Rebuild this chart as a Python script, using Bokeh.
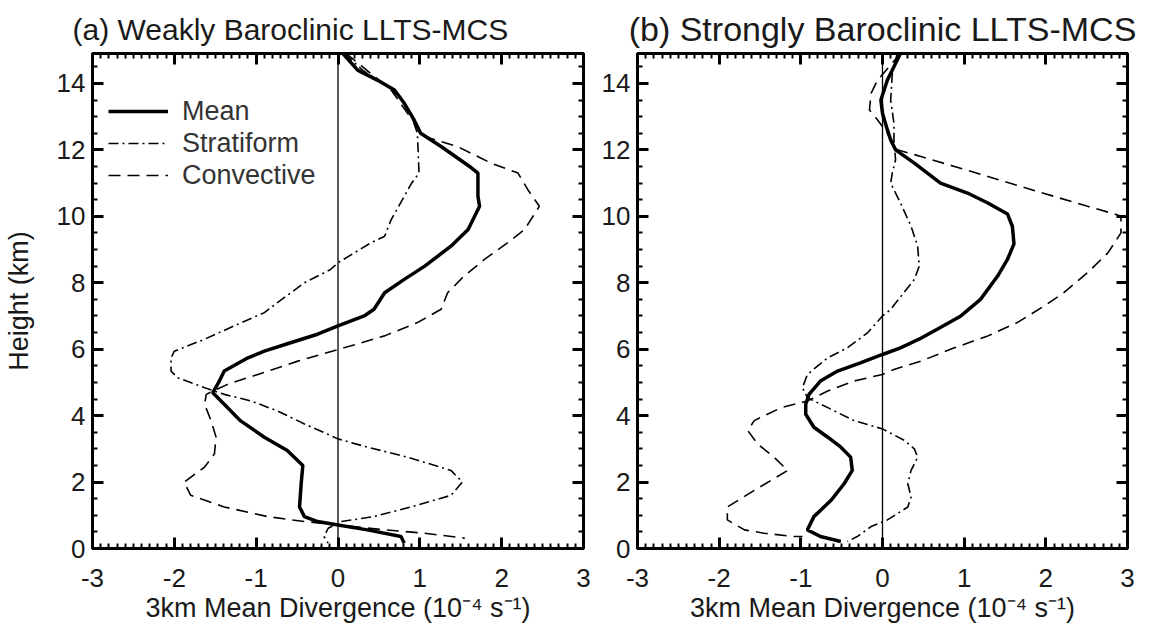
from bokeh.plotting import figure
from bokeh.models import LinearAxis, FixedTicker, Span, Legend, LegendItem, Range1d
from bokeh.layouts import row
from bokeh.embed import file_html
from bokeh.resources import INLINE
import numpy as np

# ---------------- data ----------------
x_ticks = [-3, -2, -1, 0, 1, 2, 3]
x_tick_labels = ["-3", "-2", "-1", "0", "1", "2", "3"]
y_ticks = [0, 2, 4, 6, 8, 10, 12, 14]
y_tick_labels = ["0", "2", "4", "6", "8", "10", "12", "14"]

titles = ["(a) Weakly Baroclinic LLTS-MCS", "(b) Strongly Baroclinic LLTS-MCS"]
series_names = ["Mean", "Stratiform", "Convective"]

# panel (a)
a_mean_div = [0.06, 0.24, 0.48, 0.69, 0.81, 0.93, 1.01, 1.26, 1.63, 1.71, 1.71, 1.73, 1.59, 1.38, 1.06,
              0.81, 0.57, 0.44, 0.32, 0.0, -0.25, -0.57, -0.9, -1.1, -1.39, -1.45, -1.53, -1.39, -1.19,
              -0.9, -0.62, -0.43, -0.45, -0.47, -0.41, -0.25, 0.0, 0.36, 0.77, 0.81]
a_mean_z = [14.9, 14.4, 14.1, 13.8, 13.4, 12.9, 12.5, 12.1, 11.46, 11.3, 10.6, 10.3, 9.6, 9.1, 8.5,
            8.1, 7.7, 7.2, 7.0, 6.7, 6.45, 6.2, 5.94, 5.74, 5.34, 5.04, 4.69, 4.34, 3.84,
            3.35, 2.95, 2.5, 1.95, 1.25, 0.96, 0.81, 0.71, 0.56, 0.36, 0.16]

a_strat_div = [0.08, 0.3, 0.55, 0.75, 0.9, 0.97, 0.99, 0.9, 0.81, 0.65, 0.57, 0.4, 0.0, -0.09, -0.41,
               -0.74, -0.9, -1.27, -1.63, -2.0, -2.04, -2.04, -1.96, -1.63, -1.39, -1.06, -0.74, -0.41,
               0.0, 0.36, 0.85, 1.38, 1.52, 1.38, 0.89, 0.44, 0.04, -0.12, -0.17, -0.12]
a_strat_z = [14.9, 14.4, 14.0, 13.6, 13.0, 12.5, 11.3, 11.0, 10.6, 9.9, 9.4, 9.2, 8.6, 8.4, 8.0,
             7.4, 7.1, 6.7, 6.3, 5.94, 5.74, 5.34, 5.14, 4.84, 4.64, 4.44, 4.14, 3.75,
             3.3, 3.05, 2.75, 2.35, 2.0, 1.6, 1.25, 0.96, 0.81, 0.61, 0.36, 0.16]

a_conv_div = [0.1, 0.4, 0.65, 0.85, 1.06, 1.46, 1.87, 2.2, 2.32, 2.46, 2.28, 2.07, 1.79, 1.54, 1.34,
              1.26, 0.97, 0.57, 0.16, 0.0, -0.49, -0.98, -1.35, -1.61, -1.63, -1.55, -1.49, -1.51,
              -1.63, -1.88, -1.8, -1.39, -0.86, -0.41, 0.0, 0.57, 1.06, 1.55]
a_conv_z = [14.9, 14.3, 13.8, 13.1, 12.4, 12.1, 11.6, 11.3, 10.8, 10.3, 9.6, 9.2, 8.7, 8.2, 7.7,
            7.2, 6.8, 6.4, 6.1, 5.99, 5.64, 5.24, 4.94, 4.64, 4.34, 3.84, 3.35, 2.85,
            2.45, 2.0, 1.6, 1.25, 0.96, 0.81, 0.71, 0.56, 0.46, 0.31]

# panel (b)
b_mean_div = [0.22, 0.14, 0.06, -0.02, 0.0, 0.06, 0.1, 0.16, 0.39, 0.71, 1.04, 1.29, 1.53, 1.59, 1.61,
              1.53, 1.41, 1.2, 0.96, 0.67, 0.47, 0.22, 0.0, -0.27, -0.55, -0.76, -0.9, -0.94, -0.94,
              -0.84, -0.67, -0.51, -0.39, -0.37, -0.47, -0.63, -0.84, -0.92, -0.76, -0.51]
b_mean_z = [14.9, 14.5, 14.1, 13.5, 13.1, 12.6, 12.3, 12.0, 11.6, 11.0, 10.7, 10.4, 10.07, 9.7, 9.17,
            8.7, 8.2, 7.5, 7.0, 6.6, 6.33, 6.04, 5.84, 5.59, 5.34, 5.04, 4.64, 4.34, 4.04,
            3.65, 3.35, 3.05, 2.75, 2.35, 1.95, 1.45, 0.96, 0.56, 0.36, 0.21]

b_strat_div = [0.18, 0.12, 0.1, 0.14, 0.14, 0.16, 0.12, 0.1, 0.22, 0.35, 0.43, 0.45, 0.39, 0.1, 0.0,
               -0.18, -0.43, -0.67, -0.92, -0.98, -0.92, -0.67, -0.35, 0.0, 0.27, 0.39, 0.43, 0.35,
               0.31, 0.35, 0.31, 0.06, -0.14, -0.31, -0.43]
b_strat_z = [14.9, 14.3, 13.5, 12.8, 12.3, 11.7, 11.3, 11.0, 10.4, 9.7, 9.1, 8.5, 8.1, 7.2, 7.0,
             6.5, 6.04, 5.74, 5.24, 4.84, 4.54, 4.24, 3.85, 3.6, 3.25, 3.0, 2.75, 2.35,
             1.95, 1.55, 1.25, 0.86, 0.66, 0.36, 0.21]

b_conv_div = [0.22, 0.08, -0.06, -0.14, -0.16, -0.06, 0.06, 0.18, 0.47, 0.88, 1.29, 1.69, 2.1, 2.51,
              2.84, 2.92, 2.92, 2.76, 2.51, 2.22, 1.98, 1.65, 1.29, 0.88, 0.47, 0.14, 0.0, -0.35,
              -0.67, -0.92, -1.24, -1.57, -1.65, -1.53, -1.33, -1.16, -1.57, -1.9, -1.9, -1.69,
              -1.45, -1.08, -0.98]
b_conv_z = [14.9, 14.5, 14.1, 13.7, 13.2, 12.9, 12.5, 12.0, 11.8, 11.5, 11.2, 10.9, 10.6, 10.3,
            10.07, 10.0, 9.5, 8.9, 8.3, 7.7, 7.3, 6.8, 6.4, 6.04, 5.64, 5.39, 5.24, 5.04,
            4.74, 4.44, 4.24, 3.85, 3.55, 3.15, 2.75, 2.35, 1.75, 1.25, 0.86, 0.56,
            0.46, 0.36, 0.36]

# ---------------- style ----------------
FONT = "Liberation Sans"
TXT = "#1a1a1a"
X_RANGE = (-3, 3)
Y_RANGE = (0, 14.9)


def make_panel(title, title_size, title_align, title_offset, title_standoff, width,
               border_left, border_right, show_ylabel, data, legend):
    p = figure(width=width, height=625, output_backend="svg", toolbar_location=None,
               x_range=Range1d(*X_RANGE), y_range=Range1d(*Y_RANGE),
               min_border_left=border_left, min_border_right=border_right,
               min_border_top=53, min_border_bottom=76,
               x_axis_label="3km Mean Divergence (10\u207b\u2074 s\u207b\u00b9)",
               y_axis_label="Height (km)" if show_ylabel else None,
               title=title)
    p.title.text_font = FONT
    p.title.text_font_size = title_size
    p.title.text_font_style = "normal"
    p.title.text_color = TXT
    p.title.align = title_align
    p.title.offset = title_offset
    p.title.standoff = title_standoff
    p.grid.visible = False
    p.outline_line_color = "black"
    p.outline_line_width = 3

    xt = FixedTicker(ticks=x_ticks, minor_ticks=list(np.round(np.arange(-3, 3.001, 0.1), 2)))
    yt = FixedTicker(ticks=y_ticks, minor_ticks=list(np.arange(0, 15.01, 0.5)))

    p.add_layout(LinearAxis(), "above")
    p.add_layout(LinearAxis(), "right")
    for ax in p.xaxis:
        ax.ticker = xt
        ax.major_label_overrides = dict(zip(x_ticks, x_tick_labels))
    for ax in p.yaxis:
        ax.ticker = yt
        ax.major_label_overrides = dict(zip(y_ticks, y_tick_labels))
    for ax in p.axis:
        ax.axis_line_width = 3
        ax.major_tick_in = 11
        ax.major_tick_out = 0
        ax.minor_tick_in = 5
        ax.minor_tick_out = 0
        ax.major_tick_line_width = 3
        ax.minor_tick_line_width = 2
        ax.major_label_text_font = FONT
        ax.major_label_text_font_size = "26px"
        ax.major_label_text_color = TXT
        ax.axis_label_text_font = FONT
        ax.axis_label_text_font_size = "27px"
        ax.axis_label_text_font_style = "normal"
        ax.axis_label_text_color = TXT
    bottom_ax = p.below[0]
    left_ax = p.left[0]
    bottom_ax.major_label_standoff = 20
    bottom_ax.axis_label_standoff = 3
    left_ax.major_label_standoff = 7
    left_ax.axis_label_standoff = 20
    for ax in (p.above[0], p.right[0]):
        ax.major_label_text_font_size = "0px"
        ax.major_label_text_color = None
        ax.major_label_standoff = 0
        ax.axis_label = None

    p.add_layout(Span(location=0, dimension="height", line_color="black", line_width=1.3))

    (md, mz), (sd, sz), (cd, cz) = data
    r_mean = p.line(md, mz, line_color="black", line_width=3.5)
    r_strat = p.line(sd, sz, line_color="black", line_width=1.6, line_dash="10 4 2 4")
    r_conv = p.line(cd, cz, line_color="black", line_width=1.6, line_dash="12 7")

    if legend:
        lg = Legend(items=[LegendItem(label=series_names[0], renderers=[r_mean]),
                           LegendItem(label=series_names[1], renderers=[r_strat]),
                           LegendItem(label=series_names[2], renderers=[r_conv])],
                    location=(16, 357), border_line_color=None, background_fill_alpha=0,
                    padding=0, margin=0, spacing=0, label_height=32, glyph_height=32,
                    glyph_width=60, label_standoff=14,
                    label_text_font=FONT, label_text_font_size="27px", label_text_color="#333333")
        p.add_layout(lg)
    return p


p1 = make_panel(titles[0], "30px", "left", -20, 15, 598, 92, 15, True,
                [(a_mean_div, a_mean_z), (a_strat_div, a_strat_z), (a_conv_div, a_conv_z)], True)
p2 = make_panel(titles[1], "34px", "center", 0, 11, 550, 39, 21, False,
                [(b_mean_div, b_mean_z), (b_strat_div, b_strat_z), (b_conv_div, b_conv_z)], False)

layout = row(p1, p2)
open("out.html", "w").write(file_html(layout, INLINE))
